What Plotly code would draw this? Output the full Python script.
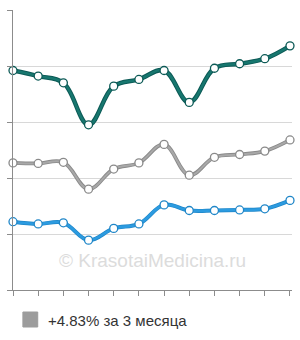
import plotly.graph_objects as go

x_idx = list(range(12))
teal = [3.92, 3.82, 3.70, 2.95, 3.64, 3.76, 3.92, 3.35, 3.96, 4.04, 4.13, 4.36]
gray = [2.27, 2.26, 2.28, 1.80, 2.16, 2.27, 2.60, 2.05, 2.37, 2.42, 2.48, 2.68]
blue = [1.22, 1.18, 1.20, 0.89, 1.10, 1.18, 1.52, 1.42, 1.42, 1.43, 1.45, 1.60]
legend_label = "+4.83% за 3 месяца"
watermark = "© KrasotaiMedicina.ru"

series = [
    (teal, "#0c5a56", "#17776f", 4.5, 2.5),
    (gray, "#8a8a8a", "#a8a8a8", 3.8, 2.0),
    (blue, "#1f86c8", "#2c9be0", 4.0, 2.6),
]

fig = go.Figure()
for vals, dark, light, wo, wi in series:
    fig.add_trace(go.Scatter(x=x_idx, y=vals, mode="lines",
                             line=dict(color=dark, width=wo, shape="spline", smoothing=1.1),
                             hoverinfo="skip", showlegend=False, cliponaxis=False))
    fig.add_trace(go.Scatter(x=x_idx, y=vals, mode="lines+markers",
                             line=dict(color=light, width=wi, shape="spline", smoothing=1.1),
                             marker=dict(size=8, color="white", line=dict(color=dark, width=1.3)),
                             showlegend=False, cliponaxis=False))

fig.add_annotation(text=watermark, xref="paper", yref="paper", x=0.5, y=0.06,
                   showarrow=False, font=dict(family="Liberation Sans, Arial", size=19, color="#dcdcdc"))

# legend
fig.add_shape(type="rect", xref="paper", yref="paper",
              x0=(20 - 10) / 282, x1=(35 - 10) / 282, y0=-(312 - 290) / 280, y1=-(327 - 290) / 280,
              fillcolor="#9c9c9c", line=dict(color="#9c9c9c", width=1))
fig.add_annotation(text=legend_label, xref="paper", yref="paper", x=(43 - 10) / 282, y=-(320 - 290) / 280,
                   xanchor="left", yanchor="middle", showarrow=False,
                   font=dict(family="Liberation Sans, Arial", size=15, color="#333333"))

fig.update_xaxes(range=[0, 11.08], showgrid=False, zeroline=False, showline=True, linecolor="#8c8c8c",
                 linewidth=1, ticks="outside", ticklen=5, tickcolor="#8c8c8c", tickvals=x_idx,
                 showticklabels=False, fixedrange=True)
fig.update_yaxes(range=[0, 5], dtick=1, tick0=0, showgrid=True, gridcolor="#d8d8d8", gridwidth=1,
                 zeroline=False, showline=True, linecolor="#8c8c8c", linewidth=1, ticks="outside",
                 ticklen=5, tickcolor="#8c8c8c", showticklabels=False, fixedrange=True)

fig.update_layout(width=300, height=340, margin=dict(l=10, r=8, t=10, b=50),
                  paper_bgcolor="white", plot_bgcolor="white", showlegend=False)

fig.write_html("out.html", config={"displayModeBar": False})
